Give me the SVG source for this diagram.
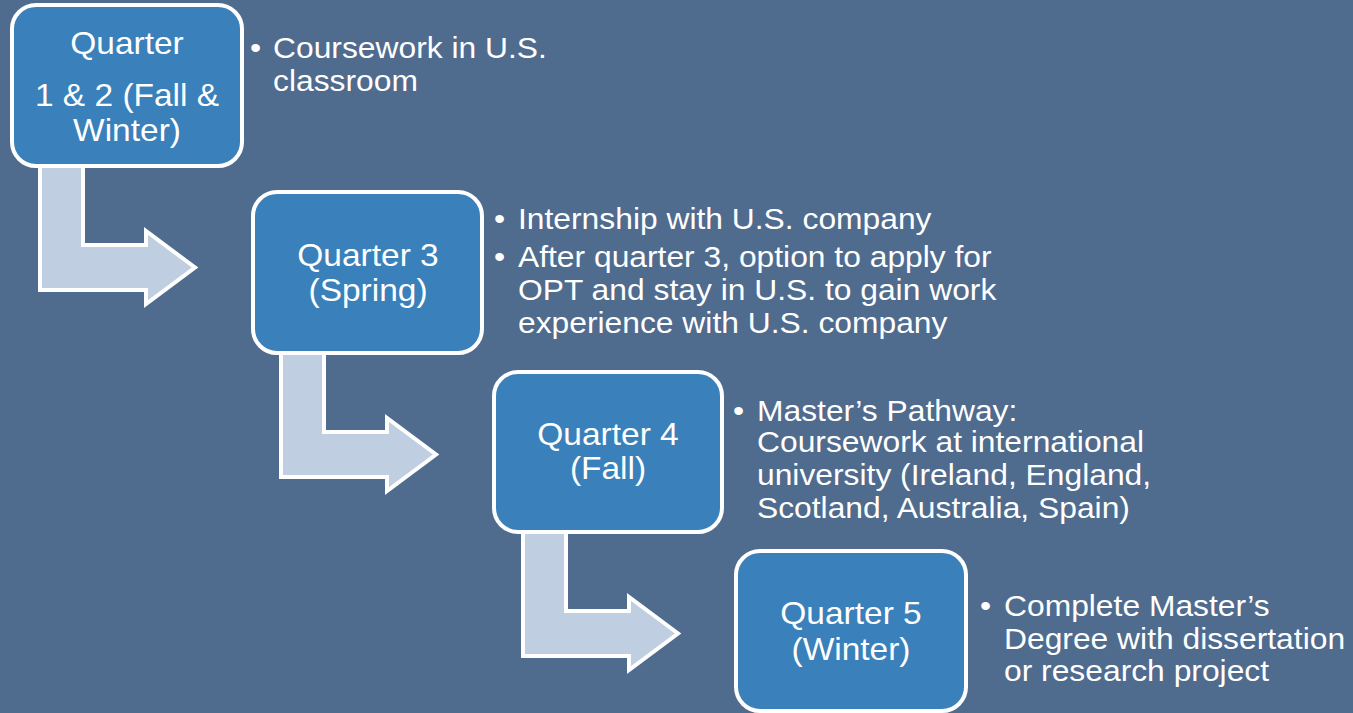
<svg xmlns="http://www.w3.org/2000/svg" width="1353" height="713" viewBox="0 0 1353 713">
<style>
.bg{fill:#4F6B8E}
.box{fill:#3A80BA;stroke:#FFFFFF;stroke-width:4}
.arr{fill:#C0CEE1;stroke:#FFFFFF;stroke-width:4;stroke-linejoin:miter}
.t{font-family:"Liberation Sans",Arial,sans-serif;fill:#FFFFFF}
.title{font-size:31px;text-anchor:middle}
.bul{font-size:30px}
</style>
<defs>
<polygon id="arrowShape" points="40,150 83,150 83,245 146,245 146,231 195,267.5 146,304 146,290 40,290"/>
</defs>
<rect class="bg" x="0" y="0" width="1353" height="713"/>
<g id="connectors">
<use href="#arrowShape" class="arr"/>
<use href="#arrowShape" class="arr" transform="translate(241,187)"/>
<use href="#arrowShape" class="arr" transform="translate(483,366)"/>
</g>
<g id="node1">
<rect class="box" x="12" y="5" width="230" height="161" rx="24"/>
<text class="t title" transform="translate(127,54) scale(1.08,1)">Quarter</text>
<text class="t title" transform="translate(127,106) scale(1.08,1)">1 &amp; 2 (Fall &amp;</text>
<text class="t title" transform="translate(127,141) scale(1.08,1)">Winter)</text>
<text class="t bul" transform="translate(250,58) scale(1.06,1)">•</text>
<text class="t bul" transform="translate(273,58) scale(1.06,1)">Coursework in U.S.</text>
<text class="t bul" transform="translate(273,91) scale(1.06,1)">classroom</text>
</g>
<g id="node2">
<rect class="box" x="253" y="192" width="229" height="161" rx="24"/>
<text class="t title" transform="translate(368,266) scale(1.08,1)">Quarter 3</text>
<text class="t title" transform="translate(368,301) scale(1.08,1)">(Spring)</text>
<text class="t bul" transform="translate(494,229) scale(1.06,1)">•</text>
<text class="t bul" transform="translate(518,229) scale(1.06,1)">Internship with U.S. company</text>
<text class="t bul" transform="translate(494,267) scale(1.06,1)">•</text>
<text class="t bul" transform="translate(518,267) scale(1.06,1)">After quarter 3, option to apply for</text>
<text class="t bul" transform="translate(518,300) scale(1.06,1)">OPT and stay in U.S. to gain work</text>
<text class="t bul" transform="translate(518,333) scale(1.06,1)">experience with U.S. company</text>
</g>
<g id="node3">
<rect class="box" x="494" y="372" width="228" height="160" rx="24"/>
<text class="t title" transform="translate(608,445) scale(1.08,1)">Quarter 4</text>
<text class="t title" transform="translate(608,479) scale(1.08,1)">(Fall)</text>
<text class="t bul" transform="translate(733,421) scale(1.06,1)">•</text>
<text class="t bul" transform="translate(757,421) scale(1.06,1)">Master’s Pathway:</text>
<text class="t bul" transform="translate(757,452) scale(1.06,1)">Coursework at international</text>
<text class="t bul" transform="translate(757,485) scale(1.06,1)">university (Ireland, England,</text>
<text class="t bul" transform="translate(757,518) scale(1.06,1)">Scotland, Australia, Spain)</text>
</g>
<g id="node4">
<rect class="box" x="736" y="551" width="230" height="160" rx="24"/>
<text class="t title" transform="translate(851,624) scale(1.08,1)">Quarter 5</text>
<text class="t title" transform="translate(851,660) scale(1.08,1)">(Winter)</text>
<text class="t bul" transform="translate(980,616) scale(1.06,1)">•</text>
<text class="t bul" transform="translate(1004,616) scale(1.06,1)">Complete Master’s</text>
<text class="t bul" transform="translate(1004,649) scale(1.06,1)">Degree with dissertation</text>
<text class="t bul" transform="translate(1004,681) scale(1.06,1)">or research project</text>
</g>
</svg>
